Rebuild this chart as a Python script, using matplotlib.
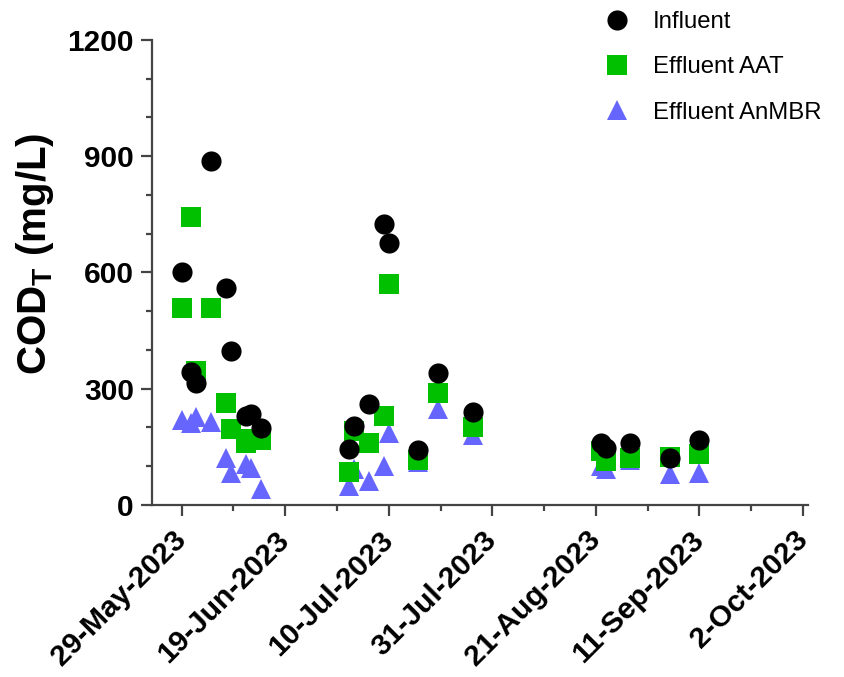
import datetime as dt
import matplotlib
matplotlib.use("Agg")
import matplotlib.pyplot as plt
import matplotlib.dates as mdates
from matplotlib.ticker import FuncFormatter, FixedLocator

plt.rcParams["font.family"] = ["Liberation Sans", "DejaVu Sans"]

# Sampling dates and total COD (mg/L) for each stream
influent_dates = ["2023-05-29", "2023-05-31", "2023-06-01", "2023-06-04", "2023-06-07",
                  "2023-06-08", "2023-06-11", "2023-06-12", "2023-06-14",
                  "2023-07-02", "2023-07-03", "2023-07-06", "2023-07-09", "2023-07-10",
                  "2023-07-16", "2023-07-20", "2023-07-27",
                  "2023-08-22", "2023-08-23", "2023-08-28", "2023-09-05", "2023-09-11"]
influent_cod = [601, 342, 316, 887, 561, 398, 230, 236, 199,
                145, 204, 260, 726, 676, 142, 341, 239,
                161, 148, 161, 121, 167]

aat_dates = influent_dates
aat_cod = [508, 742, 345, 508, 264, 197, 161, 170, 167,
           84, 190, 161, 230, 571, 116, 290, 202,
           140, 114, 122, 123, 131]

anmbr_dates = influent_dates
anmbr_cod = [220, 212, 228, 215, 122, 83, 105, 95, 41,
             49, 93, 62, 101, 185, 110, 248, 180,
             101, 93, 115, 79, 83]

tick_dates = ["2023-05-29", "2023-06-19", "2023-07-10", "2023-07-31",
              "2023-08-21", "2023-09-11", "2023-10-02"]


def to_num(days):
    return [mdates.date2num(dt.datetime.strptime(d, "%Y-%m-%d")) for d in days]


fig = plt.figure(figsize=(8.45, 6.77), dpi=100)
ax = fig.add_axes([0.1799, 0.2541, 0.7763, 0.6869])

ax.plot(to_num(anmbr_dates), anmbr_cod, linestyle="none", marker="^", markersize=15,
        color="#6666FF", markeredgewidth=0, label="Effluent AnMBR", zorder=2, clip_on=False)
ax.plot(to_num(aat_dates), aat_cod, linestyle="none", marker="s", markersize=14,
        color="#00C000", markeredgewidth=0, label="Effluent AAT", zorder=3, clip_on=False)
ax.plot(to_num(influent_dates), influent_cod, linestyle="none", marker="o", markersize=14.5,
        color="black", markeredgewidth=0, label="Influent", zorder=4, clip_on=False)

major = to_num(tick_dates)
minor = [m + 10.5 for m in major[:-1]]
ax.xaxis.set_major_locator(FixedLocator(major))
ax.xaxis.set_minor_locator(FixedLocator(minor))


def date_label(x, pos):
    d = mdates.num2date(x)
    return f"{d.day}-{d.strftime('%b')}-{d.year}"


ax.xaxis.set_major_formatter(FuncFormatter(date_label))
ax.set_xlim(mdates.date2num(dt.datetime(2023, 5, 23)), mdates.date2num(dt.datetime(2023, 10, 3)))

ax.set_ylim(0, 1200)
ax.set_yticks([0, 300, 600, 900, 1200])
ax.set_yticks(range(0, 1201, 100), minor=True)

for side in ("top", "right"):
    ax.spines[side].set_visible(False)
for side in ("left", "bottom"):
    ax.spines[side].set_color("#444444")
    ax.spines[side].set_linewidth(1.6)

ax.tick_params(axis="both", which="major", length=8, width=1.6, color="#444444",
               labelsize=21.5, pad=5)
ax.tick_params(axis="x", which="major", pad=14)
ax.tick_params(axis="both", which="minor", length=4, width=1.6, color="#444444")
for lab in ax.get_yticklabels():
    lab.set_fontweight("bold")
for lab in ax.get_xticklabels():
    lab.set_fontweight("bold")
    lab.set_rotation(45)
    lab.set_ha("right")
    lab.set_va("center")
    lab.set_rotation_mode("anchor")

ax.set_ylabel(r"COD$_\mathregular{T}$ (mg/L)", fontsize=29, fontweight="bold")
ax.yaxis.set_label_coords(-0.146, 0.54)

handles, labels = ax.get_legend_handles_labels()
order = [2, 1, 0]
fig.legend([handles[i] for i in order], [labels[i] for i in order],
           loc="upper left", bbox_to_anchor=(604 / 845, 1 - 11 / 677),
           frameon=False, fontsize=17.2, handlelength=1.05, handletextpad=1.0,
           labelspacing=0.98, borderpad=0, borderaxespad=0)

fig.savefig("out.png", dpi=100)
